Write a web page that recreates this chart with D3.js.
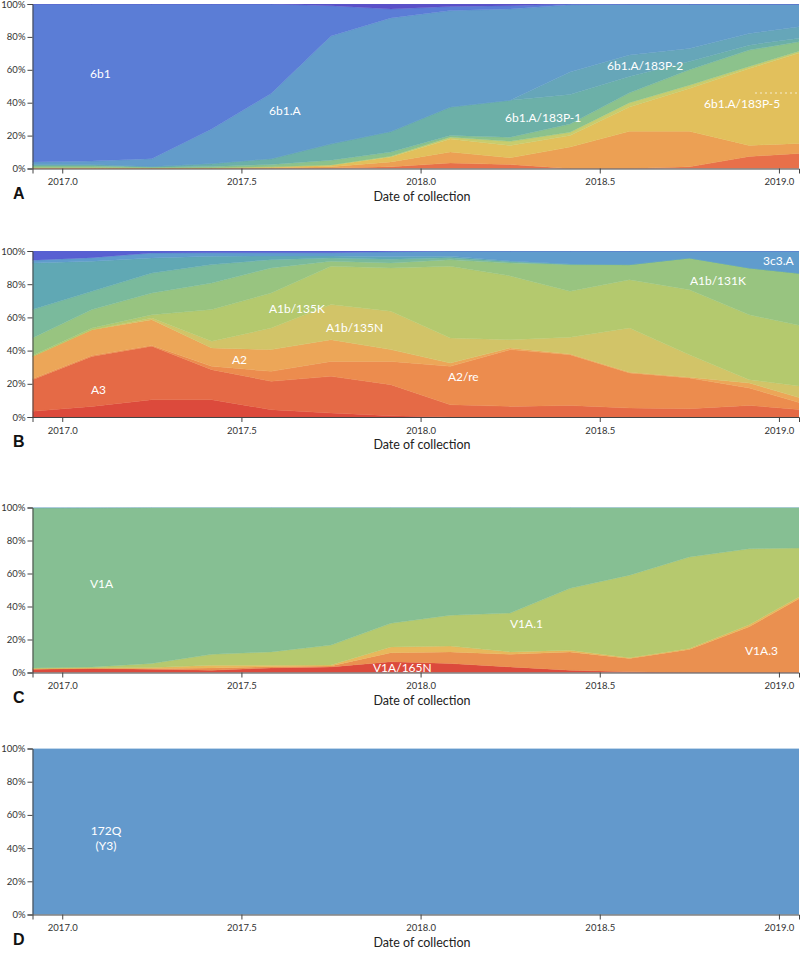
<!DOCTYPE html>
<html><head><meta charset="utf-8">
<script src="https://cdn.jsdelivr.net/npm/d3@7"></script>
<style>
body{margin:0;background:#fff;}
svg{display:block;}
.tick text{font-family:Lato,"Open Sans",sans-serif;font-size:9.5px;fill:#333;}
.lbl{font-family:Lato,"Open Sans",sans-serif;font-size:12px;fill:#fff;}
.ttl{font-family:Lato,"Open Sans",sans-serif;font-size:12.5px;fill:#222;}
.let{font-family:"Liberation Sans",Arial,sans-serif;font-size:16px;font-weight:bold;fill:#111;}
</style></head><body>
<script>
// ---- time points (years) ----
const times = [2016.917, 2017.083, 2017.25, 2017.417, 2017.583, 2017.75, 2017.917, 2018.083, 2018.25, 2018.417, 2018.583, 2018.75, 2018.917, 2019.083];
const xTicks = [2017.0, 2017.5, 2018.0, 2018.5, 2019.0];
const yTicks = [0, 20, 40, 60, 80, 100];

// ---- Panel A (percent, bottom to top) ----
const A_names  = ["A_red", "A_orange", "6b1.A/183P-5", "A_lyg", "A_green", "6b1.A/183P-1", "6b1.A/183P-2", "6b1.A", "6b1", "A_indigo"];
const A_red    = [0, 0, 0, 0, 0, 0.3, 1, 3.3, 2.4, 0, 0, 1, 7.3, 9.5];
const A_orange = [0.3, 0.3, 0.2, 0.3, 0.5, 0.7, 3, 6.7, 4.1, 13, 22.6, 21.6, 6.7, 6];
const A_p5     = [0.3, 0.3, 0.2, 0.2, 0.5, 1, 3, 8, 7.5, 7, 14.8, 26, 46.8, 56.5];
const A_lyg    = [0, 0, 0, 0, 0, 0.2, 0.5, 1, 2.5, 2, 2.6, 2, 1.2, 1];
const A_green  = [0.9, 0.9, 0.4, 0.7, 1.5, 2.8, 2.5, 1, 2.5, 5, 6, 9.4, 10, 5];
const A_p1     = [1, 1, 0.4, 1.8, 3.5, 10, 12.5, 17.4, 22.5, 18, 10, 5, 3, 2];
const A_p2     = [0, 0, 0, 0, 0, 0, 0, 0, 0, 13.7, 13, 8, 7, 7];
const A_6b1A   = [1.5, 2, 4.8, 21, 39.6, 65.5, 69, 58.6, 55.5, 40.8, 31, 27, 18, 13];
const A_6b1    = [96, 95.5, 94, 76, 54.4, 18.5, 5.5, 2.5, 2, 0.5, 0, 0, 0, 0];
const A_indigo = [0, 0, 0, 0, 0, 1, 3, 1.5, 1, 0, 0, 0, 0, 0];
const A_colors = ["#e8704a", "#eca054", "#e2c05c", "#c8cd6e", "#8cc28c", "#6cb0a8", "#66a6b9", "#629cca", "#5b7dd6", "#5a50c8"];

// ---- Panel B ----
const B_names  = ["B_red", "A3", "A2/re", "A2", "A1b/135N", "A1b/135K", "A1b/131K", "B_tealgreen", "B_teal", "3c3.A", "B_indigo"];
const B_red    = [3.4, 6.4, 10.4, 10.4, 4.4, 2.4, 0.8, 0, 0, 0, 0, 0, 0, 0];
const B_A3     = [19.1, 30.1, 32.2, 18.1, 17.1, 22.1, 18.7, 7.4, 6.4, 7, 5.4, 5, 7, 4];
const B_A2re   = [0.5, 0.5, 0.4, 2, 6, 9, 14, 23.1, 34.2, 30.5, 21.1, 18.5, 10.5, 3];
const B_A2     = [13.5, 15.6, 15.6, 11.1, 13.1, 13.1, 7.1, 2, 1, 0.5, 0.5, 0.5, 3, 3];
const B_135N   = [0, 0, 1, 4, 13, 21.1, 23.1, 15.1, 5, 10, 26.6, 13.5, 2, 8];
const B_135K   = [0.5, 1, 2, 19.1, 21.1, 23.1, 26.1, 43.2, 38.4, 27.7, 29.1, 39.2, 39.1, 36];
const B_131K   = [10.6, 11.1, 13.1, 16, 15.1, 3, 3, 4, 7.8, 16.1, 9.1, 19.1, 28.2, 32];
const B_tg     = [17.1, 11, 12, 11.1, 5, 2, 2.2, 1.2, 0.7, 0.2, 0, 0, 0, 0];
const B_teal   = [28.1, 18.1, 9.1, 5, 2.2, 1.2, 1.5, 0.8, 0.5, 0.2, 0, 0, 0, 0];
const B_3c3A   = [1.7, 2.2, 3, 2.2, 2, 2, 3, 3.2, 6, 7.8, 8.2, 4.2, 10.2, 14];
const B_indigo = [5.5, 4, 1.2, 1, 1, 1, 0.5, 0, 0, 0, 0, 0, 0, 0];
const B_colors = ["#dc4a3c", "#e56a46", "#ec8c4e", "#eca658", "#d2c468", "#b4c96e", "#98c480", "#7aba9c", "#60a8b4", "#609ccd", "#5860d2"];

// ---- Panel C ----
const C_names  = ["V1A/165N", "V1A.3", "C_lorange", "V1A.1", "V1A", "C_blue"];
const C_165N   = [2, 2.4, 2, 1.4, 2.8, 3.4, 6.5, 5.5, 3.4, 1.4, 0.4, 0, 0, 0];
const C_V1A3   = [0.2, 0.2, 0.5, 1.4, 0.7, 0.6, 5.5, 7, 7.6, 11.1, 8.1, 14, 27.7, 48];
const C_lor    = [0.3, 0.3, 0.5, 1.6, 0.9, 0.5, 3.5, 3.5, 1.5, 1, 0.5, 0.5, 1.3, 1];
const C_V1A1   = [0.3, 0.5, 2.5, 6.6, 8.1, 12.1, 14.3, 18.7, 23.5, 37.5, 50, 55.5, 46, 26.5];
const C_V1A    = [96.9, 96.4, 94.5, 89, 87.5, 83.4, 70.2, 65.3, 64, 49, 41, 30, 25, 24.5];
const C_blue   = [0.3, 0.2, 0, 0, 0, 0, 0, 0, 0, 0, 0, 0, 0, 0];
const C_colors = ["#dc4a3c", "#ea9050", "#e8b85c", "#b6c96e", "#86bf93", "#5f9bcb"];

// ---- Panel D ----
const D_names  = ["172Q"];
const D_172Q   = [100, 100, 100, 100, 100, 100, 100, 100, 100, 100, 100, 100, 100, 100];
const D_colors = ["#6399cc"];

// ---- build ----
const W = 800, H = 961;
const svg = d3.select("body").append("svg").attr("width", W).attr("height", H);
const x = d3.scaleLinear().domain([2016.917, 2019.056]).range([32.5, 799]);

function panel(idx, top, bottom, names, series, colors, letter, labels) {
  const g = svg.append("g");
  const y = d3.scaleLinear().domain([0, 100]).range([bottom, top]);
  const rows = times.map((t, i) => {
    const r = {t};
    names.forEach((n, k) => r[n] = series[k][i]);
    return r;
  });
  const stacked = d3.stack().keys(names)(rows);
  const cid = "clip" + idx;
  g.append("clipPath").attr("id", cid).append("rect")
    .attr("x", x.range()[0]).attr("y", top).attr("width", x.range()[1] - x.range()[0]).attr("height", bottom - top);
  const area = d3.area().x(d => x(d.data.t)).y0(d => y(d[0])).y1(d => y(d[1]));
  g.append("g").attr("clip-path", `url(#${cid})`).selectAll("path").data(stacked).join("path")
    .attr("d", area).attr("fill", (d, i) => colors[i]).attr("stroke", (d, i) => colors[i]).attr("stroke-width", 0.4);
  // labels
  labels.forEach(l => {
    l.lines.forEach((s, j) => {
      g.append("text").attr("class", "lbl").attr("x", l.x).attr("y", l.y + j * 15)
        .attr("text-anchor", l.anchor || "start").text(s);
    });
  });
  // axes
  g.append("g").attr("transform", `translate(${x.range()[0]},0)`)
    .call(d3.axisLeft(y).tickValues(yTicks).tickFormat(d => d + "%").tickSize(5).tickSizeOuter(5))
    .call(a => a.selectAll("path,line").attr("stroke", "#444"))
    .call(a => a.selectAll("text").attr("dx", "1px"));
  g.append("g").attr("transform", `translate(0,${bottom})`)
    .call(d3.axisBottom(x).tickValues(xTicks).tickFormat(d3.format(".1f")).tickSize(5).tickSizeOuter(5))
    .call(a => a.selectAll("path,line").attr("stroke", "#444"))
    .call(a => a.selectAll("text").attr("dy", "0.9em"));
  g.append("text").attr("class", "ttl").attr("x", 422).attr("y", bottom + 32).attr("text-anchor", "middle").text("Date of collection");
  g.append("text").attr("class", "let").attr("x", 13).attr("y", bottom + 30).text(letter);
  return {g, y};
}

const pA = panel(0, 4, 168.5, A_names, [A_red, A_orange, A_p5, A_lyg, A_green, A_p1, A_p2, A_6b1A, A_6b1, A_indigo], A_colors, "A", [
  {x: 90, y: 78, lines: ["6b1"]},
  {x: 269, y: 115, lines: ["6b1.A"]},
  {x: 505, y: 122, lines: ["6b1.A/183P-1"]},
  {x: 607, y: 70, lines: ["6b1.A/183P-2"]},
  {x: 704, y: 108, lines: ["6b1.A/183P-5"]}
]);
pA.g.append("line").attr("x1", 755).attr("x2", 798).attr("y1", 93).attr("y2", 93)
  .attr("stroke", "#fff").attr("stroke-opacity", 0.7).attr("stroke-dasharray", "2,3");

panel(1, 251, 417, B_names, [B_red, B_A3, B_A2re, B_A2, B_135N, B_135K, B_131K, B_tg, B_teal, B_3c3A, B_indigo], B_colors, "B", [
  {x: 91, y: 394, lines: ["A3"]},
  {x: 232, y: 364, lines: ["A2"]},
  {x: 269, y: 313, lines: ["A1b/135K"]},
  {x: 326, y: 332, lines: ["A1b/135N"]},
  {x: 448, y: 381, lines: ["A2/re"]},
  {x: 690, y: 285, lines: ["A1b/131K"]},
  {x: 763, y: 265, lines: ["3c3.A"]}
]);

panel(2, 507.5, 672.5, C_names, [C_165N, C_V1A3, C_lor, C_V1A1, C_V1A, C_blue], C_colors, "C", [
  {x: 90, y: 588, lines: ["V1A"]},
  {x: 510, y: 628, lines: ["V1A.1"]},
  {x: 745, y: 655, lines: ["V1A.3"]},
  {x: 373, y: 672, lines: ["V1A/165N"]}
]);

panel(3, 748.5, 914.5, D_names, [D_172Q], D_colors, "D", [
  {x: 106, y: 835, lines: ["172Q", "(Y3)"], anchor: "middle"}
]);
</script>
</body></html>
